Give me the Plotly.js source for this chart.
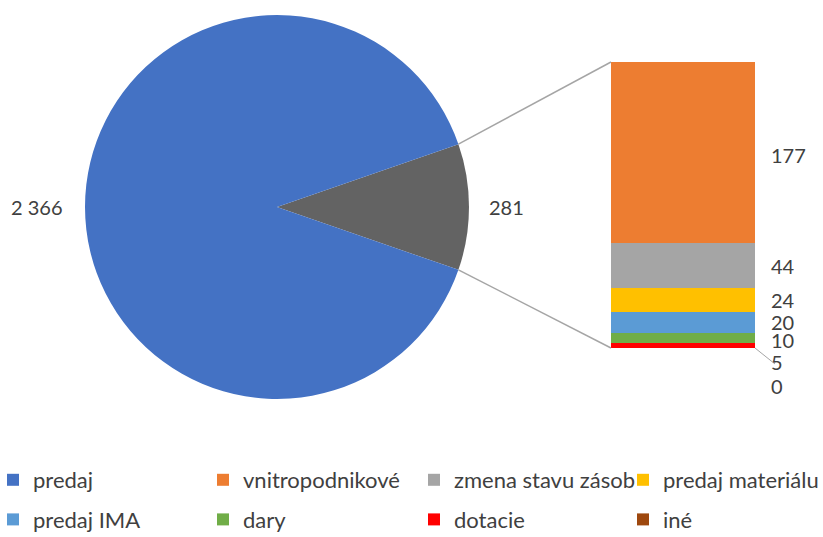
<!DOCTYPE html>
<html><head><meta charset="utf-8">
<script src="https://cdn.plot.ly/plotly-3.0.1.min.js"></script>
<style>html,body{margin:0;padding:0;background:#fff;}</style>
</head><body><div id="chart" style="width:823px;height:537px;"></div>
<script>
// Pie data
const pieLabels = ['ostatné', 'predaj'];
const pieValues = [281, 2366];
const pieColors = ['#636363', '#4472C4'];
// Bar (breakdown of "ostatné"), bottom to top
const barLabels = ['iné', 'dotacie', 'dary', 'predaj IMA', 'predaj materiálu', 'zmena stavu zásob', 'vnitropodnikové'];
const barValues = [0, 5, 10, 20, 24, 44, 177];
const barColors = ['#9E480E', '#FF0000', '#70AD47', '#5B9BD5', '#FFC000', '#A5A5A5', '#ED7D31'];
// legend columns (Excel layout: 4 columns x 2 rows)
const legendCols = [['predaj', 'predaj IMA'], ['vnitropodnikové', 'dary'], ['zmena stavu zásob', 'dotacie'], ['predaj materiálu', 'iné']];

const W = 823, H = 537;
const fmt = v => String(v).replace(/\B(?=(\d{3})+(?!\d))/g, ' ');
const txt = '#404040';
const FONT = 'Lato, Roboto, sans-serif';
const FS = 20;
const LFS = 22;

const pieCx = 277, pieCy = 207, pieR = 192;
const pieDomX = [(pieCx - pieR) / W, (pieCx + pieR) / W];
const pieDomY = [(H - pieCy - pieR) / H, (H - pieCy + pieR) / H];
const total = pieValues.reduce((a, b) => a + b, 0);
const half = 0.5 * pieValues[0] / total * 360;

const barDomX = [611 / W, 755 / W];
const barDomY = [(H - 348) / H, (H - 62) / H];
const barTotal = barValues.reduce((a, b) => a + b, 0);

const legendOf = name => {
  const c = legendCols.findIndex(col => col.includes(name));
  return c === 0 ? 'legend' : 'legend' + (c + 1);
};

const traces = [{
  type: 'pie', labels: pieLabels, values: pieValues, sort: false,
  direction: 'clockwise', rotation: 90 - half,
  marker: {colors: pieColors, line: {color: '#ffffff', width: 0}},
  textinfo: 'none', hoverinfo: 'label+value', showlegend: false,
  domain: {x: pieDomX, y: pieDomY}
}];
// legend-only entry for "predaj"
traces.push({type: 'bar', name: 'predaj', x: [null], y: [null], marker: {color: pieColors[1]},
  legend: legendOf('predaj'), legendgroup: 'predaj', legendrank: 1});
barLabels.forEach((l, i) => {
  const col = legendCols.find(c => c.includes(l));
  traces.push({type: 'bar', name: l, x: ['o'], y: [barValues[i]], marker: {color: barColors[i]},
    legend: legendOf(l), legendgroup: l, legendrank: col.indexOf(l) + 1, hoverinfo: 'name+y'});
});

// connector lines computed from the pie angle and bar extents
const cxp = (pieDomX[0] + pieDomX[1]) / 2, cyp = (pieDomY[0] + pieDomY[1]) / 2;
const a = half * Math.PI / 180;
const upX = cxp + pieR * Math.cos(a) / W, upY = cyp + pieR * Math.sin(a) / H;
const loY = cyp - pieR * Math.sin(a) / H;
const shapes = [
  {type: 'line', xref: 'paper', yref: 'paper', x0: upX, y0: upY, x1: barDomX[0], y1: barDomY[1], line: {color: '#A5A5A5', width: 1.5}},
  {type: 'line', xref: 'paper', yref: 'paper', x0: upX, y0: loY, x1: barDomX[0], y1: barDomY[0], line: {color: '#A5A5A5', width: 1.5}},
  {type: 'line', xref: 'paper', yref: 'paper', x0: barDomX[1], y0: barDomY[0], x1: barDomX[1] + 20 / W, y1: barDomY[0] - 16 / H, line: {color: '#A5A5A5', width: 1}}
];

const annotations = [
  {xref: 'paper', yref: 'paper', x: (pieCx - pieR - 20) / W, y: cyp, xanchor: 'right', yanchor: 'middle', text: fmt(pieValues[1]), showarrow: false, font: {size: FS, color: txt, family: FONT}},
  {xref: 'paper', yref: 'paper', x: (pieCx + pieR + 18) / W, y: cyp, xanchor: 'left', yanchor: 'middle', text: fmt(pieValues[0]), showarrow: false, font: {size: FS, color: txt, family: FONT}}
];
const shifts = [-38, -17, -2, 0, 0, -1, -3];
let cum = 0;
barValues.forEach((v, i) => {
  annotations.push({xref: 'paper', yref: 'y', x: 769 / W, y: cum + v / 2, xanchor: 'left', yanchor: 'middle',
    yshift: shifts[i], text: fmt(v), showarrow: false, font: {size: FS, color: txt, family: FONT}});
  cum += v;
});

const legendX = [-7, 203, 414, 623];
const mkLegend = x => ({orientation: 'v', x: x / W, y: (H - 459) / H, xanchor: 'left', yanchor: 'top',
  traceorder: 'grouped', tracegroupgap: 8, bgcolor: 'rgba(0,0,0,0)',
  font: {size: LFS, color: txt, family: FONT}, itemwidth: 30});

const layout = {
  width: W, height: H, margin: {l: 0, r: 0, t: 0, b: 0, autoexpand: false},
  paper_bgcolor: '#fff', plot_bgcolor: 'rgba(0,0,0,0)',
  barmode: 'stack', bargap: 0,
  xaxis: {type: 'category', domain: barDomX, range: [-0.5, 0.5], visible: false, fixedrange: true},
  yaxis: {domain: barDomY, range: [0, barTotal], visible: false, fixedrange: true},
  showlegend: true,
  legend: mkLegend(legendX[0]), legend2: mkLegend(legendX[1]), legend3: mkLegend(legendX[2]), legend4: mkLegend(legendX[3]),
  shapes: shapes, annotations: annotations
};
Plotly.newPlot('chart', traces, layout, {staticPlot: true});
</script></body></html>
